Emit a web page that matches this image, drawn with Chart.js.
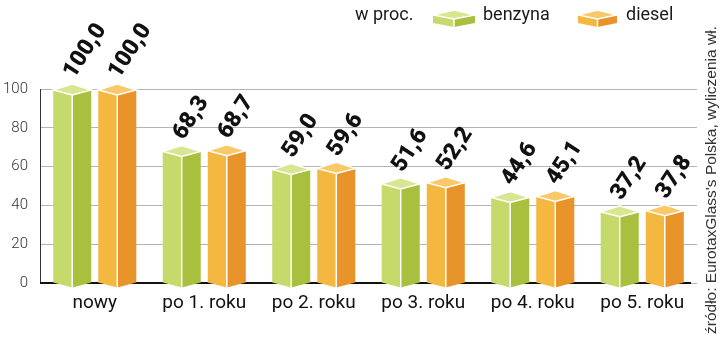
<!DOCTYPE html>
<html>
<head>
<meta charset="utf-8">
<script src="https://cdn.jsdelivr.net/npm/chart.js@4.4.0/dist/chart.umd.min.js"></script>
<style>
  html, body { margin: 0; padding: 0; background: #fff; }
  canvas { display: block; }
</style>
</head>
<body>
<canvas id="wykres" width="720" height="342"></canvas>
<script>
var categories = ['nowy', 'po 1. roku', 'po 2. roku', 'po 3. roku', 'po 4. roku', 'po 5. roku'];
var benzyna = [100.0, 68.3, 59.0, 51.6, 44.6, 37.2];
var diesel = [100.0, 68.7, 59.6, 52.2, 45.1, 37.8];
var yTicks = [0, 20, 40, 60, 80, 100];
var seriesNames = ['benzyna', 'diesel'];
var source = 'źródło: EurotaxGlass\'s Polska, wyliczenia wł.';

var kolory = [
    { left: '#c6da6c', right: '#a9bf3e', top: '#d8e692' },
    { left: '#f4b840', right: '#e9942a', top: '#f8c869' }
];

function prism(ctx, L, R, top, bottom, dUp, dDown, c) {
    var M = (L + R) / 2;
    ctx.save();
    ctx.beginPath();
    ctx.moveTo(L, top); ctx.lineTo(M, top + dDown); ctx.lineTo(M, bottom + dDown); ctx.lineTo(L, bottom);
    ctx.closePath();
    ctx.fillStyle = c.left; ctx.fill();
    ctx.beginPath();
    ctx.moveTo(M, top + dDown); ctx.lineTo(R, top); ctx.lineTo(R, bottom); ctx.lineTo(M, bottom + dDown);
    ctx.closePath();
    ctx.fillStyle = c.right; ctx.fill();
    ctx.beginPath();
    ctx.moveTo(L, top); ctx.lineTo(M, top - dUp); ctx.lineTo(R, top); ctx.lineTo(M, top + dDown);
    ctx.closePath();
    ctx.fillStyle = c.top; ctx.fill();
    ctx.strokeStyle = '#ffffff';
    ctx.lineWidth = 1.5;
    ctx.stroke();
    ctx.beginPath();
    ctx.moveTo(M, top + dDown); ctx.lineTo(M, bottom + dDown);
    ctx.stroke();
    ctx.restore();
}

function fmt(v) { return v.toFixed(1).replace('.', ','); }

var prismy = {
    id: 'prismy',
    beforeDatasetsDraw: function(chart) {
        var ctx = chart.ctx, a = chart.chartArea;
        var y0 = chart.scales.y.getPixelForValue(0);
        ctx.save();
        ctx.strokeStyle = '#111';
        ctx.lineWidth = 2;
        ctx.beginPath();
        ctx.moveTo(a.left, y0); ctx.lineTo(a.right - 6, y0);
        ctx.stroke();
        ctx.restore();
    },
    afterDatasetsDraw: function(chart) {
        var ctx = chart.ctx;
        chart.data.datasets.forEach(function(ds, i) {
            var meta = chart.getDatasetMeta(i);
            meta.data.forEach(function(bar, j) {
                var p = bar.getProps(['x', 'y', 'base', 'width'], true);
                var L = p.x - p.width / 2, R = p.x + p.width / 2;
                prism(ctx, L, R, p.y + 1, p.base, 6, 5, kolory[i]);
                ctx.save();
                ctx.translate(p.x - 3, p.y - 13);
                ctx.rotate(-57 * Math.PI / 180);
                ctx.font = '900 23px Roboto';
                ctx.fillStyle = '#111';
                ctx.textAlign = 'left';
                ctx.textBaseline = 'middle';
                ctx.fillText(fmt(ds.data[j]), 0, 0);
                ctx.restore();
            });
        });
    },
    afterDraw: function(chart) {
        var ctx = chart.ctx;
        ctx.save();
        ctx.font = '18px Roboto';
        ctx.fillStyle = '#1a1a1a';
        ctx.textBaseline = 'middle';
        ctx.textAlign = 'left';
        ctx.fillText('w proc.', 355, 15);
        prism(ctx, 433, 475, 15, 23, 5, 4, kolory[0]);
        ctx.fillStyle = '#1a1a1a';
        ctx.fillText(seriesNames[0], 483, 15);
        prism(ctx, 578, 617, 15, 23, 5, 4, kolory[1]);
        ctx.fillStyle = '#1a1a1a';
        ctx.fillText(seriesNames[1], 626, 15);
        ctx.translate(712, 334);
        ctx.rotate(-Math.PI / 2);
        ctx.font = '15.5px "Liberation Sans"';
        ctx.fillStyle = '#333';
        ctx.fillText(source, 0, 0);
        ctx.restore();
    }
};

new Chart(document.getElementById('wykres'), {
    type: 'bar',
    data: {
        labels: categories,
        datasets: [
            { label: seriesNames[0], data: benzyna, backgroundColor: 'rgba(0,0,0,0)',
              categoryPercentage: 0.823, barPercentage: 0.844 },
            { label: seriesNames[1], data: diesel, backgroundColor: 'rgba(0,0,0,0)',
              categoryPercentage: 0.823, barPercentage: 0.844 }
        ]
    },
    options: {
        responsive: false,
        devicePixelRatio: 1,
        animation: false,
        layout: { padding: { top: 89, right: 23, left: 0, bottom: 0 } },
        plugins: { legend: { display: false }, tooltip: { enabled: false } },
        scales: {
            x: {
                grid: { display: false, drawTicks: false },
                border: { display: false },
                ticks: { color: '#111', font: { family: 'Roboto', size: 19 }, padding: 9 },
                afterFit: function(s) { s.height = 59; }
            },
            y: {
                min: 0, max: 100,
                afterBuildTicks: function(s) { s.ticks = yTicks.map(function(v) { return { value: v }; }); },
                grid: { color: '#b4b4b4', lineWidth: 1, drawTicks: false },
                border: { display: true, color: '#333', width: 1 },
                ticks: { color: '#333', font: { family: 'Roboto', size: 15, weight: '300' }, padding: 12 },
                afterFit: function(s) { s.width = 40; }
            }
        }
    },
    plugins: [prismy]
});
</script>
</body>
</html>
